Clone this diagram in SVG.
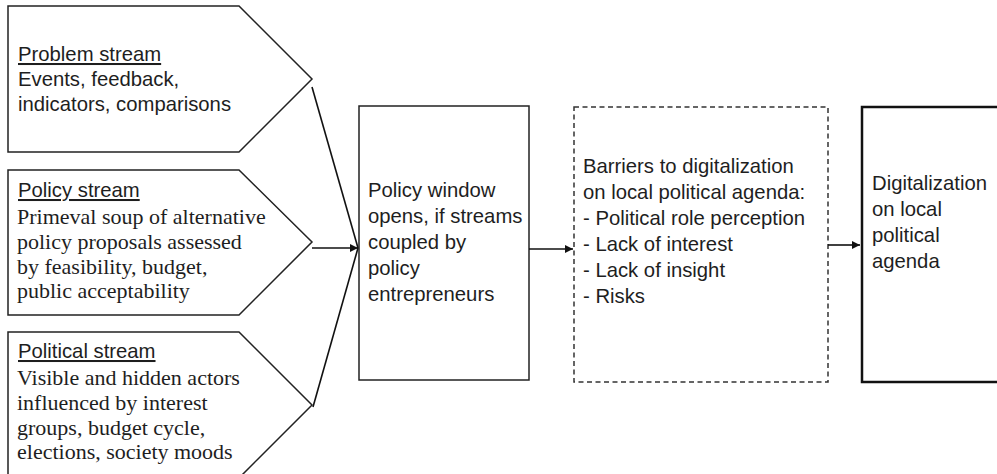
<svg xmlns="http://www.w3.org/2000/svg" width="997" height="474" viewBox="0 0 997 474">
<style>
  .shape { fill: #ffffff; stroke: #222222; stroke-width: 1.5; }
  .sans { font-family: "Liberation Sans", Arial, sans-serif; font-size: 20.3px; fill: #1e1e1e; }
  .serif { font-family: "Liberation Serif", "Times New Roman", serif; font-size: 22px; fill: #1e1e1e; }
  .title { text-decoration: underline; }
  .conn { stroke: #111111; stroke-width: 1.6; fill: none; }
  .dashed { fill: #ffffff; stroke: #333333; stroke-width: 1.5; stroke-dasharray: 5 3.5; }
  .thick { fill: #ffffff; stroke: #111111; stroke-width: 2.5; }
</style>
<defs>
  <marker id="arrow" markerUnits="userSpaceOnUse" markerWidth="9" markerHeight="9" refX="8" refY="4" orient="auto">
    <path d="M0,0 L8,4 L0,8 Z" fill="#111111"/>
  </marker>
</defs>
<rect width="997" height="474" fill="#ffffff"/>

<g id="problem-stream">
  <polygon class="shape" points="8,6 239,6 312,79 239,152 8,152"/>
  <text class="sans title" x="18" y="61">Problem stream</text>
  <text class="sans" x="18" y="86">Events, feedback,</text>
  <text class="sans" x="18" y="111">indicators, comparisons</text>
</g>

<g id="policy-stream">
  <polygon class="shape" points="8,170 239,170 312,242 239,315 8,315"/>
  <text class="sans title" x="18" y="197">Policy stream</text>
  <text class="serif" x="17" y="224">Primeval soup of alternative</text>
  <text class="serif" x="17" y="249">policy proposals assessed</text>
  <text class="serif" x="17" y="274">by feasibility, budget,</text>
  <text class="serif" x="17" y="298">public acceptability</text>
</g>

<g id="political-stream">
  <polygon class="shape" points="8,332 239,332 312,405 239,478 8,478"/>
  <text class="sans title" x="18" y="358">Political stream</text>
  <text class="serif" x="17" y="385">Visible and hidden actors</text>
  <text class="serif" x="17" y="410">influenced by interest</text>
  <text class="serif" x="17" y="435">groups, budget cycle,</text>
  <text class="serif" x="17" y="459">elections, society moods</text>
</g>

<g id="policy-window">
  <rect class="shape" x="359" y="106" width="170" height="274"/>
  <text class="sans" x="368" y="197">Policy window</text>
  <text class="sans" x="368" y="223">opens, if streams</text>
  <text class="sans" x="368" y="249">coupled by</text>
  <text class="sans" x="368" y="275">policy</text>
  <text class="sans" x="368" y="301">entrepreneurs</text>
</g>

<g id="barriers">
  <rect class="dashed" x="574" y="107" width="254" height="275"/>
  <text class="sans" x="583" y="173">Barriers to digitalization</text>
  <text class="sans" x="583" y="199">on local political agenda:</text>
  <text class="sans" x="583" y="225">- Political role perception</text>
  <text class="sans" x="583" y="251">- Lack of interest</text>
  <text class="sans" x="583" y="277">- Lack of insight</text>
  <text class="sans" x="583" y="303">- Risks</text>
</g>

<g id="digitalization">
  <rect class="thick" x="862" y="107" width="150" height="275"/>
  <text class="sans" x="872" y="190">Digitalization</text>
  <text class="sans" x="872" y="216">on local</text>
  <text class="sans" x="872" y="242">political</text>
  <text class="sans" x="872" y="268">agenda</text>
</g>

<g id="connectors">
  <line class="conn" x1="312" y1="87" x2="358" y2="248"/>
  <line class="conn" x1="313" y1="407" x2="358" y2="248"/>
  <line class="conn" x1="312" y1="248" x2="358" y2="248" marker-end="url(#arrow)"/>
  <line class="conn" x1="529" y1="249" x2="573" y2="249" marker-end="url(#arrow)"/>
  <line class="conn" x1="828" y1="245" x2="860" y2="245" stroke-width="2.4" marker-end="url(#arrow)"/>
</g>
</svg>
